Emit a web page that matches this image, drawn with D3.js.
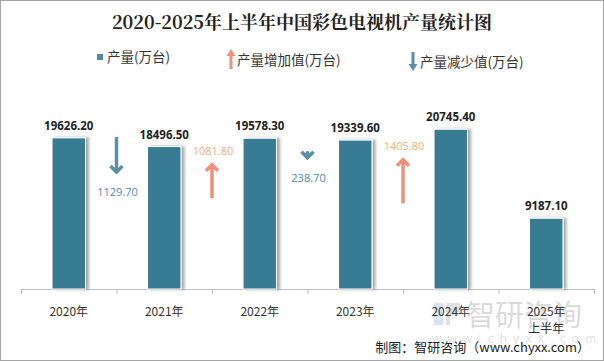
<!DOCTYPE html>
<html>
<head>
<meta charset="utf-8">
<script src="https://cdn.jsdelivr.net/npm/d3@7/dist/d3.min.js"></script>
<style>
  body { margin: 0; background: #fff; }
  svg { display: block; }
</style>
</head>
<body>
<div class="canvas"></div>
<script>
const dims = { width: 604, height: 361 };

// data
const years = ['2020年', '2021年', '2022年', '2023年', '2024年', '2025年\n上半年'];
const output = [19626.2, 18496.5, 19578.3, 19339.6, 20745.4, 9187.1];
const changes = [-1129.7, 1081.8, -238.7, 1405.8]; // between consecutive years
const changeLabels = ['1129.70', '1081.80', '238.70', '1405.80'];

const cjk = '"Noto Sans CJK SC", "Noto Sans", sans-serif';
const num = '"Open Sans", "Noto Sans", sans-serif';
const barColour = '#377c94';
const upColour = '#f0907b';
const downColour = '#5b8fa6';

const svg = d3.select('.canvas')
  .append('svg')
  .attr('width', dims.width)
  .attr('height', dims.height);

// shadow filter for the bars
const defs = svg.append('defs');
const f = defs.append('filter').attr('id', 'shadow')
  .attr('x', '-20%').attr('y', '-5%').attr('width', '160%').attr('height', '110%');
f.append('feGaussianBlur').attr('in', 'SourceAlpha').attr('stdDeviation', 1.5);
f.append('feOffset').attr('dx', 3).attr('dy', 0).attr('result', 'b');
f.append('feComponentTransfer').call(g => g.append('feFuncA').attr('type', 'linear').attr('slope', 0.35));
const m = f.append('feMerge');
m.append('feMergeNode');
m.append('feMergeNode').attr('in', 'SourceGraphic');

// frame
svg.append('rect')
  .attr('x', 0.5).attr('y', 0.5)
  .attr('width', dims.width - 1).attr('height', dims.height - 1)
  .attr('fill', '#fff').attr('stroke', '#a6a6a6');

// title
svg.append('text')
  .attr('x', 302).attr('y', 29)
  .attr('text-anchor', 'middle')
  .attr('font-family', '"Noto Serif CJK SC", ' + cjk)
  .attr('font-weight', 'bold')
  .attr('font-size', 18)
  .attr('fill', '#222')
  .text('2020-2025年上半年中国彩色电视机产量统计图');

// scales
const x = d3.scaleBand().domain(years).range([21, 594]).padding(0);
const y = d3.scaleLinear().domain([0, 25000]).range([289, 96.5]);
const arrowLen = d3.scaleLinear().domain([0, 1000]).range([0, 31.8]);
const barW = x.bandwidth() * 0.35;

// watermark
const wm = svg.append('g').attr('opacity', 0.55);
wm.append('rect').attr('x', 434).attr('y', 303).attr('width', 9).attr('height', 22).attr('fill', '#b9cfe0');
wm.append('path').attr('d', 'M446,303 h14 v12 h-10 v10 h-4 z').attr('fill', '#c9c9c9');
wm.append('text')
  .attr('x', 466).attr('y', 326)
  .attr('font-family', cjk).attr('font-size', 29)
  .attr('fill', '#bdbdbd')
  .text('智研咨询');
wm.append('text')
  .attr('x', 432).attr('y', 343)
  .attr('font-family', num).attr('font-size', 12)
  .attr('letter-spacing', 6.2)
  .attr('fill', '#c4c4c4')
  .text('www.chyxx.com');

// axis
const xAxis = d3.axisBottom(x).tickSize(5).tickFormat('');
const axisG = svg.append('g').attr('transform', 'translate(0,289)').call(xAxis);
axisG.select('.domain').attr('stroke', '#bfbfbf').attr('d', 'M21.5,5V0.5H594.5V5');
axisG.selectAll('.tick').remove();
axisG.selectAll('.edge')
  .data(d3.range(years.length + 1))
  .enter().append('line')
  .attr('x1', i => 21.5 + i * x.step()).attr('x2', i => 21.5 + i * x.step())
  .attr('y1', 0).attr('y2', 5)
  .attr('stroke', '#bfbfbf');

// category labels
svg.append('g').selectAll('text')
  .data(years)
  .enter().append('text')
  .attr('x', d => x(d) + x.bandwidth() / 2)
  .attr('y', 316)
  .attr('text-anchor', 'middle')
  .attr('font-family', cjk).attr('font-size', 12)
  .attr('fill', '#333')
  .each(function(d) {
    d.split('\n').forEach((line, i) => {
      d3.select(this).append('tspan')
        .attr('x', x(d) + x.bandwidth() / 2)
        .attr('dy', i === 0 ? 0 : 17)
        .text(line);
    });
  });

// bars
svg.append('g').selectAll('rect')
  .data(output)
  .enter().append('rect')
  .attr('x', (d, i) => x(years[i]) + (x.bandwidth() - barW) / 2)
  .attr('y', d => y(d))
  .attr('width', barW)
  .attr('height', d => y(0) - y(d))
  .attr('fill', barColour)
  .attr('stroke', '#fff').attr('stroke-width', 1)
  .attr('filter', 'url(#shadow)');

// value labels
svg.append('g').selectAll('text')
  .data(output)
  .enter().append('text')
  .attr('x', (d, i) => x(years[i]) + x.bandwidth() / 2)
  .attr('y', d => y(d) - 8)
  .attr('text-anchor', 'middle')
  .attr('font-family', num).attr('font-weight', 'bold').attr('font-size', 11.5)
  .attr('fill', '#222')
  .text(d => d.toFixed(2));

// change arrows between bars
const arrows = svg.append('g');
changes.forEach((c, i) => {
  const ax = x(years[i + 1]);
  const len = arrowLen(Math.abs(c));
  const up = c > 0;
  const mid = up ? 181 : 155;
  const y0 = mid - len / 2, y1 = mid + len / 2; // y0 top, y1 bottom
  const colour = up ? upColour : downColour;
  const g = arrows.append('g')
    .attr('fill', 'none').attr('stroke', colour)
    .attr('stroke-width', 3.5);
  if (up) {
    g.append('line').attr('x1', ax).attr('x2', ax).attr('y1', y0 + 1).attr('y2', y1);
    g.append('path').attr('d', `M${ax - 6},${y0 + 7} L${ax},${y0 + 1} L${ax + 6},${y0 + 7}`);
  } else {
    g.append('line').attr('x1', ax).attr('x2', ax).attr('y1', y0).attr('y2', y1 - 1);
    g.append('path').attr('d', `M${ax - 6},${y1 - 7} L${ax},${y1 - 1} L${ax + 6},${y1 - 7}`);
  }
  arrows.append('text')
    .attr('x', ax + 1)
    .attr('y', up ? y0 - 9 : y1 + 23)
    .attr('text-anchor', 'middle')
    .attr('font-family', num).attr('font-size', 11)
    .attr('fill', up ? '#f4ae7a' : '#4d8db2')
    .text(changeLabels[i]);
});

// legend
const legend = svg.append('g').attr('font-family', cjk).attr('font-size', 13.5).attr('fill', '#333');
legend.append('rect').attr('x', 97).attr('y', 54).attr('width', 6).attr('height', 6).attr('fill', '#4a8fa8');
legend.append('text').attr('x', 107).attr('y', 62).text('产量(万台)');
legend.append('path')
  .attr('d', 'M229.5,69 V56 H226.5 L231,49 L235.5,56 H232.5 V69 Z')
  .attr('fill', upColour);
legend.append('text').attr('x', 237).attr('y', 65).text('产量增加值(万台)');
legend.append('path')
  .attr('d', 'M411.5,52 V64 H408.5 L413,71 L417.5,64 H414.5 V52 Z')
  .attr('fill', downColour);
legend.append('text').attr('x', 420).attr('y', 67).text('产量减少值(万台)');

// source
svg.append('text')
  .attr('x', 590).attr('y', 352)
  .attr('text-anchor', 'end')
  .attr('font-family', cjk).attr('font-size', 13)
  .attr('fill', '#222')
  .text('制图：智研咨询（www.chyxx.com）');
</script>
</body>
</html>
